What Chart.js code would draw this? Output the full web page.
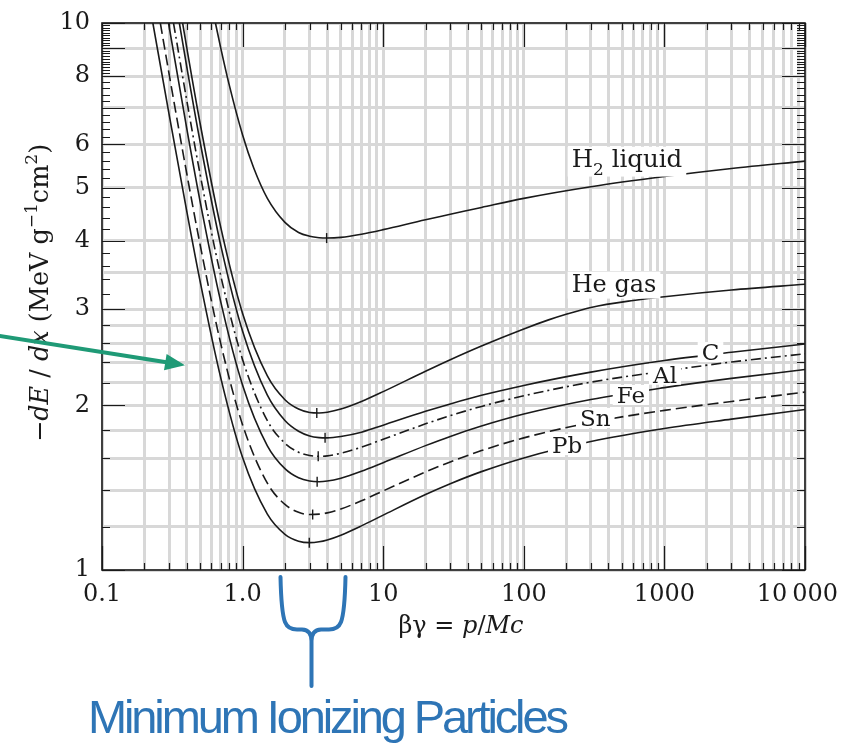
<!DOCTYPE html>
<html>
<head>
<meta charset="utf-8">
<title>Mean energy loss rate</title>
<script src="https://cdn.jsdelivr.net/npm/chart.js@4.4.1/dist/chart.umd.min.js"></script>
<style>
  html, body { margin: 0; padding: 0; background: #ffffff; }
  canvas { display: block; }
</style>
</head>
<body>
<canvas id="chart" width="844" height="743"></canvas>
<script>
// βγ = p/Mc sample points and the mean energy loss −dE/dx (MeV g⁻¹ cm²) of each material
const h2LiquidBG   = [0.641, 0.7, 0.8, 1.0, 1.2, 1.5, 2.0, 2.5, 3.0, 3.5, 4.0, 5.0, 7.0, 10, 20, 30, 50, 100, 300, 1000, 3000, 10000];
const h2LiquidLoss = [10.0, 8.99, 7.74, 6.24, 5.43, 4.78, 4.32, 4.14, 4.075, 4.05, 4.044, 4.056, 4.11, 4.19, 4.37, 4.47, 4.60, 4.78, 5.02, 5.24, 5.42, 5.59];

const heGasBG   = [0.3745, 0.4, 0.5, 0.7, 1.0, 1.5, 2.0, 2.5, 3.0, 3.5, 4.0, 5.0, 7.0, 10, 20, 30, 50, 100, 150, 200, 300, 600, 1000, 3000, 10000];
const heGasLoss = [10.0, 9.04, 6.53, 4.225, 2.945, 2.264, 2.048, 1.969, 1.941, 1.937, 1.943, 1.969, 2.033, 2.119, 2.309, 2.424, 2.568, 2.759, 2.866, 2.935, 3.02, 3.11, 3.16, 3.25, 3.33];

const carbonBG   = [0.355, 0.4, 0.5, 0.7, 1.0, 1.5, 2.0, 2.5, 3.0, 3.5, 4.0, 5.0, 7.0, 10, 20, 30, 50, 100, 300, 1000, 3000, 10000];
const carbonLoss = [10.0, 8.34, 6.04, 3.918, 2.732, 2.087, 1.876, 1.793, 1.758, 1.746, 1.744, 1.754, 1.786, 1.840, 1.950, 2.012, 2.086, 2.175, 2.30, 2.415, 2.50, 2.59];

const aluminumBG   = [0.3225, 0.4, 0.5, 0.7, 1.0, 1.5, 2.0, 2.5, 3.0, 3.5, 4.0, 5.0, 7.0, 10, 20, 30, 50, 100, 300, 1000, 3000, 10000];
const aluminumLoss = [10.0, 7.24, 5.27, 3.447, 2.424, 1.875, 1.705, 1.642, 1.619, 1.614, 1.617, 1.635, 1.677, 1.734, 1.850, 1.915, 1.991, 2.082, 2.205, 2.31, 2.40, 2.485];

const ironBG   = [0.2972, 0.4, 0.5, 0.7, 1.0, 1.5, 2.0, 2.5, 3.0, 3.5, 4.0, 5.0, 7.0, 10, 20, 30, 50, 100, 300, 1000, 3000, 10000];
const ironLoss = [10.0, 6.43, 4.70, 3.088, 2.177, 1.687, 1.532, 1.474, 1.454, 1.450, 1.454, 1.472, 1.515, 1.571, 1.688, 1.755, 1.833, 1.928, 2.05, 2.155, 2.24, 2.325];

const tinBG   = [0.2599, 0.3, 0.4, 0.5, 0.7, 1.0, 1.5, 2.0, 2.5, 3.0, 3.5, 4.0, 5.0, 7.0, 10, 20, 30, 50, 100, 300, 1000, 3000, 10000];
const tinLoss = [10.0, 8.07, 5.32, 3.92, 2.59, 1.842, 1.441, 1.318, 1.275, 1.263, 1.265, 1.272, 1.293, 1.338, 1.395, 1.511, 1.576, 1.653, 1.744, 1.861, 1.958, 2.033, 2.115];

const leadBG   = [0.23, 0.3, 0.4, 0.5, 0.7, 1.0, 1.5, 2.0, 2.5, 3.0, 3.5, 4.0, 5.0, 7.0, 10, 20, 30, 50, 100, 300, 1000, 3000, 10000];
const leadLoss = [10.0, 6.81, 4.54, 3.36, 2.243, 1.605, 1.265, 1.162, 1.129, 1.122, 1.126, 1.135, 1.158, 1.204, 1.260, 1.374, 1.438, 1.513, 1.603, 1.717, 1.814, 1.887, 1.965];

// where each curve reaches its minimum (same order: H2, He, C, Al, Fe, Sn, Pb)
const minimumBG   = [3.96, 3.37, 3.86, 3.45, 3.39, 3.15, 2.98];
const minimumLoss = [4.044, 1.937, 1.744, 1.614, 1.450, 1.263, 1.122];

// printed axis ticks (the last one is kept inside the page edge by a trailing figure space)
const xTickValues = [0.1, 1, 10, 100, 1000, 10000];
const xTickLabels = ['0.1', '1.0', '10', '100', '1000', '10\u2009000\u2007'];
const yTickValues = [1, 2, 3, 4, 5, 6, 8, 10];
const yTickLabels = ['1', '2', '3', '4', '5', '6', '8', '10'];

// ---------------------------------------------------------------------------
const SERIF = '"DejaVu Serif", serif';
const INK = '#1a1a1a';
const GRID = '#d8d8d8';
const GREEN = '#1f9a76';
const BLUE = '#2e75b6';

const pairs = (xs, ys) => xs.map((v, i) => ({ x: v, y: ys[i] }));
const sameValue = (a, b) => Math.abs(Math.log10(a) - Math.log10(b)) < 1e-6;

// grid line positions: every 1..9 × decade along βγ, finer steps along the loss axis
const xGrid = [];
for (let e = -1; e < 4; e++) for (let m = 1; m < 10; m++) xGrid.push(m * Math.pow(10, e));
xGrid.push(10000);
const yGrid = [1, 1.2, 1.4, 1.6, 1.8, 2, 2.2, 2.4, 2.6, 2.8, 3, 3.5, 4, 5, 6, 7, 8, 9, 10];
const yMinorMarks = [];
for (let k = 11; k < 100; k++) if (k % 10 !== 0 && (k < 80 ? k % 2 === 0 : true)) yMinorMarks.push(k / 10);

function fontOf(size, italic) { return (italic ? 'italic ' : '') + size + 'px ' + SERIF; }

// text made of runs: {t, it (italic), sup, sub}
function richLayout(ctx, segs, size) {
  let w = 0, top = 0, bottom = 0;
  const runs = segs.map(s => {
    const sz = (s.sup || s.sub) ? Math.round(size * 0.68) : size;
    const dy = s.sup ? -size * 0.42 : (s.sub ? size * 0.32 : 0);
    ctx.font = fontOf(sz, s.it);
    const m = ctx.measureText(s.t);
    const r = { s, sz, dy, x: w };
    w += m.width + (s.gap || 0);
    top = Math.min(top, dy - m.actualBoundingBoxAscent);
    bottom = Math.max(bottom, dy + m.actualBoundingBoxDescent);
    return r;
  });
  return { runs, w, top, bottom };
}
function richDraw(ctx, lay, x, y) {
  ctx.textAlign = 'left';
  ctx.textBaseline = 'alphabetic';
  for (const r of lay.runs) {
    ctx.font = fontOf(r.sz, r.s.it);
    ctx.fillText(r.s.t, x + r.x, y + r.dy);
  }
}

// curve names sitting on white patches, anchored at (βγ, loss) of their left baseline
const curveTags = [
  { segs: [{ t: 'H' }, { t: '2', sub: true }, { t: ' liquid' }], at: [219, 5.46], size: 24.5 },
  { segs: [{ t: 'He gas' }], at: [219, 3.228], size: 24 },
  { segs: [{ t: 'C' }], at: [1842, 2.42], size: 23 },
  { segs: [{ t: 'Al' }], at: [830, 2.20], size: 23 },
  { segs: [{ t: 'Fe' }], at: [458, 2.02], size: 23 },
  { segs: [{ t: 'Sn' }], at: [251, 1.834], size: 23 },
  { segs: [{ t: 'Pb' }], at: [158.7, 1.636], size: 23 }
];

const decor = {
  id: 'decor',
  afterDatasetsDraw(chart) {
    const { ctx, scales: { x, y } } = chart;
    ctx.save();
    for (const tag of curveTags) {
      const lay = richLayout(ctx, tag.segs, tag.size);
      const px = x.getPixelForValue(tag.at[0]);
      const py = y.getPixelForValue(tag.at[1]);
      ctx.fillStyle = '#ffffff';
      ctx.fillRect(px - 4, py + lay.top - 2, lay.w + 8, lay.bottom - lay.top + 4);
      ctx.fillStyle = INK;
      richDraw(ctx, lay, px, py);
    }
    ctx.restore();
  },
  afterDraw(chart) {
    const { ctx, chartArea: a, scales: { x, y } } = chart;
    ctx.save();

    // plot frame
    ctx.strokeStyle = INK;
    ctx.lineWidth = 1.6;
    ctx.strokeRect(a.left, a.top, a.right - a.left, a.bottom - a.top);

    // inward tick marks on all four sides
    ctx.lineWidth = 1.2;
    ctx.beginPath();
    for (const v of xGrid) {
      const p = Math.round(x.getPixelForValue(v)) + 0.5;
      const len = sameValue(v, Math.pow(10, Math.round(Math.log10(v)))) ? 24 : 7;
      ctx.moveTo(p, a.bottom); ctx.lineTo(p, a.bottom - len);
      ctx.moveTo(p, a.top); ctx.lineTo(p, a.top + len);
    }
    for (let v = 1; v <= 10; v++) {
      const p = Math.round(y.getPixelForValue(v)) + 0.5;
      ctx.moveTo(a.left, p); ctx.lineTo(a.left + 23, p);
      ctx.moveTo(a.right, p); ctx.lineTo(a.right - 23, p);
    }
    for (const v of yMinorMarks) {
      const p = Math.round(y.getPixelForValue(v)) + 0.5;
      ctx.moveTo(a.left, p); ctx.lineTo(a.left + 8, p);
      ctx.moveTo(a.right, p); ctx.lineTo(a.right - 8, p);
    }
    ctx.stroke();

    // axis titles
    ctx.fillStyle = INK;
    const xt = richLayout(ctx, [{ t: 'βγ = ' }, { t: 'p', it: true }, { t: '/' }, { t: 'Mc', it: true }], 24);
    richDraw(ctx, xt, 461 - xt.w / 2, 633);

    const yt = richLayout(ctx, [
      { t: '\u2212' }, { t: 'dE', it: true }, { t: ' / ' }, { t: 'dx', it: true }, { t: ' (MeV g' },
      { t: '\u22121', sup: true }, { t: 'cm' }, { t: '2', sup: true }, { t: ')' }
    ], 25.5);
    ctx.save();
    ctx.translate(48, 293);
    ctx.rotate(-Math.PI / 2);
    richDraw(ctx, yt, -yt.w / 2, 0);
    ctx.restore();

    // green pointer arrow
    ctx.strokeStyle = GREEN;
    ctx.fillStyle = GREEN;
    ctx.lineWidth = 4;
    ctx.beginPath();
    ctx.moveTo(-4, 335.4);
    ctx.lineTo(168, 362.5);
    ctx.stroke();
    ctx.beginPath();
    ctx.moveTo(185, 365.2);
    ctx.lineTo(166.6, 353.9);
    ctx.lineTo(164.0, 370.2);
    ctx.closePath();
    ctx.fill();

    // brace under the minimum-ionizing range
    ctx.strokeStyle = BLUE;
    ctx.lineWidth = 4;
    ctx.lineCap = 'round';
    ctx.lineJoin = 'round';
    ctx.beginPath();
    ctx.moveTo(280.5, 577);
    ctx.bezierCurveTo(281, 600, 282, 614, 285, 622);
    ctx.quadraticCurveTo(288, 629.5, 297, 629.5);
    ctx.lineTo(302, 629.5);
    ctx.quadraticCurveTo(311.5, 630, 311.5, 641);
    ctx.lineTo(311.5, 686);
    ctx.moveTo(345.5, 577);
    ctx.bezierCurveTo(345, 600, 344, 614, 341, 622);
    ctx.quadraticCurveTo(338, 629.5, 329, 629.5);
    ctx.lineTo(321, 629.5);
    ctx.quadraticCurveTo(311.5, 630, 311.5, 641);
    ctx.stroke();

    // caption
    ctx.fillStyle = BLUE;
    ctx.font = '47px "Liberation Sans", Arial, sans-serif';
    ctx.textAlign = 'left';
    ctx.textBaseline = 'alphabetic';
    const caption = 'Minimum Ionizing Particles';
    const natural = ctx.measureText(caption).width;
    const target = 481;
    if ('letterSpacing' in ctx) {
      ctx.letterSpacing = ((target - natural) / (caption.length - 1)).toFixed(2) + 'px';
      ctx.fillText(caption, 88, 733);
      ctx.letterSpacing = '0px';
    } else {
      ctx.save();
      ctx.translate(88, 733);
      ctx.scale(target / natural, 1);
      ctx.fillText(caption, 0, 0);
      ctx.restore();
    }
    ctx.restore();
  }
};

const line = (label, xs, ys, dash) => ({
  label,
  data: pairs(xs, ys),
  borderColor: INK,
  borderWidth: 1.6,
  borderDash: dash || [],
  pointRadius: 0,
  fill: false,
  cubicInterpolationMode: 'monotone'
});

new Chart(document.getElementById('chart'), {
  type: 'line',
  data: {
    datasets: [
      line('H2 liquid', h2LiquidBG, h2LiquidLoss),
      line('He gas', heGasBG, heGasLoss),
      line('C', carbonBG, carbonLoss),
      line('Al', aluminumBG, aluminumLoss, [10, 4, 2, 4]),
      line('Fe', ironBG, ironLoss),
      line('Sn', tinBG, tinLoss, [11, 5]),
      line('Pb', leadBG, leadLoss),
      {
        label: 'minimum',
        data: pairs(minimumBG, minimumLoss),
        showLine: false,
        pointStyle: 'line',
        rotation: 90,
        pointRadius: 5,
        pointBorderColor: INK,
        pointBorderWidth: 1.4
      }
    ]
  },
  options: {
    responsive: false,
    animation: false,
    devicePixelRatio: 1,
    layout: { padding: { left: 0, top: 23, right: 39, bottom: 0 } },
    plugins: { legend: { display: false }, tooltip: { enabled: false } },
    scales: {
      x: {
        type: 'logarithmic',
        min: 0.1,
        max: 10000,
        afterBuildTicks: s => { s.ticks = xGrid.map(v => ({ value: v })); },
        afterFit: s => { s.height = 173; s.paddingLeft = 0; s.paddingRight = 0; },
        grid: { color: GRID, lineWidth: 3, drawTicks: false },
        border: { display: false },
        ticks: {
          autoSkip: false,
          maxRotation: 0,
          padding: 10,
          color: INK,
          font: { family: SERIF, size: 24 },
          callback: v => {
            const i = xTickValues.findIndex(t => sameValue(t, v));
            return i >= 0 ? xTickLabels[i] : '';
          }
        }
      },
      y: {
        type: 'logarithmic',
        min: 1,
        max: 10,
        afterBuildTicks: s => { s.ticks = yGrid.map(v => ({ value: v })); },
        afterFit: s => { s.width = 102; s.paddingTop = 0; s.paddingBottom = 0; },
        grid: { color: GRID, lineWidth: 3, drawTicks: false },
        border: { display: false },
        ticks: {
          autoSkip: false,
          padding: 12,
          color: INK,
          font: { family: SERIF, size: 24 },
          callback: v => {
            const i = yTickValues.findIndex(t => sameValue(t, v));
            return i >= 0 ? yTickLabels[i] : '';
          }
        }
      }
    }
  },
  plugins: [decor]
});
</script>
</body>
</html>
